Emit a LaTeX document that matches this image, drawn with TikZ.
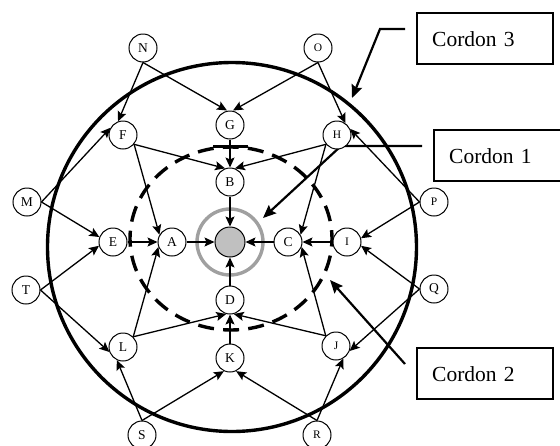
\documentclass[tikz,border=0pt]{standalone}
\usepackage{fontspec}
\setmainfont{Liberation Serif}
\usetikzlibrary{arrows.meta}
\begin{document}
\begin{tikzpicture}[x=1pt,y=-1pt,
  nd/.style={circle,draw,line width=1pt,minimum size=28pt,inner sep=0pt,fill=white,font=\fontsize{13.5}{15}\selectfont},
  nds/.style={nd,font=\fontsize{11.5}{13}\selectfont},
  con/.style={line width=1.3pt,-{Stealth[length=10pt,width=9pt,inset=2pt]}},
  lead/.style={line width=2.2pt,-{Stealth[length=13pt,width=11pt,inset=2pt]}},
  lbl/.style={draw,line width=2.4pt,anchor=north west,minimum height=51pt,text width=106pt,inner xsep=15pt,inner ysep=0pt,align=left,font=\fontsize{21.5}{24}\selectfont},
  cordon/.style={line width=3.4pt}
]
\useasboundingbox (0,0) rectangle (560,445);

% cordons
\draw[cordon] (232,247) circle [radius=184.5];
\draw[cordon,dash pattern=on 16pt off 9.2pt,dash phase=8pt] (231,238.5) ellipse [x radius=101, y radius=91.5];
\draw[cordon] (213,146.5) -- (248,146.5);
\draw[line width=3.4pt,color={rgb,255:red,160;green,160;blue,160}] (230,242) circle [radius=33];

% labels
\node[lbl] (c3) at (416,12) {Cordon 3};
\node[lbl] (c1) at (433,129) {Cordon 1};
\node[lbl] (c2) at (416,347) {Cordon 2};
\coordinate (l3a) at (405,29);
\coordinate (l3b) at (380,29);
\coordinate (l3t) at (352,98);
\coordinate (l1a) at (422,146);
\coordinate (l1b) at (341,146);
\coordinate (l1t) at (263,218);
\coordinate (l2a) at (405,364);
\coordinate (l2t) at (330,280);
\draw[lead] (l3a) -- (l3b) -- (l3t);
\draw[lead] (l1a) -- (l1b) -- (l1t);
\draw[lead] (l2a) -- (l2t);

% nodes
\node[nd] (N) at (143,48) {N};
\node[nds] (O) at (318,48) {O};
\node[nd] (G) at (230,125) {G};
\node[nd] (F) at (123,135) {F};
\node[nds] (H) at (337,135) {H};
\node[nd] (B) at (230,182) {B};
\node[nd] (M) at (27,202) {M};
\node[nds] (P) at (434,202) {P};
\node[nd] (E) at (113,242) {E};
\node[nd] (A) at (172,242) {A};
\node[circle,draw,line width=1pt,minimum size=30pt,inner sep=0pt,fill={rgb,255:red,192;green,192;blue,192}] (X) at (230,242) {};
\node[nd] (C) at (288,242) {C};
\node[nds] (I) at (347,242) {I};
\node[nd] (T) at (26,290) {T};
\node[nd] (Q) at (434,289) {Q};
\node[nd] (D) at (230,300) {D};
\node[nd] (L) at (123,347) {L};
\node[nds] (J) at (336,346) {J};
\node[nd] (K) at (230,358) {K};
\node[nd] (S) at (142,435) {S};
\node[nds] (R) at (317,435) {R};

% connectors
\draw[con] (N.south) -- ([xshift=-3pt]G.north);
\draw[con] (O.south) -- ([xshift=3pt]G.north);
\draw[con] (N.south) -- (F.110);
\draw[con] (M.east) -- (F.150);
\draw[con] (M.east) -- (E.160);
\draw[con] (T.east) -- (E.195);
\draw[con] (T.east) -- (L.200);
\draw[con] (S.north) -- (L.245);
\draw[con] (S.north) -- (K.245);
\draw[con] (R.north) -- (K.295);
\draw[con] (R.north) -- (J.300);
\draw[con] (Q.west) -- (J.340);
\draw[con] (Q.west) -- (I.-15);
\draw[con] (P.west) -- (I.15);
\draw[con] (P.west) -- (H.25);
\draw[con] (O.south) -- (H.55);
\draw[con] (G.south) -- (B.north);
\draw[con] (F.-40) -- (B.110);
\draw[con] (H.220) -- (B.70);
\draw[con] (F.-40) -- (A.150);
\draw[con] (L.45) -- (A.200);
\draw[con] (E.east) -- (A.west);
\draw[con] (A.east) -- (X.west);
\draw[con] (B.south) -- (X.north);
\draw[con] (C.west) -- (X.east);
\draw[con] (D.north) -- (X.south);
\draw[con] (I.west) -- (C.east);
\draw[con] (H.220) -- (C.30);
\draw[con] (J.135) -- (C.-20);
\draw[con] (K.north) -- (D.south);
\draw[con] (L.45) -- (D.255);
\draw[con] (J.135) -- (D.285);
\end{tikzpicture}
\end{document}
